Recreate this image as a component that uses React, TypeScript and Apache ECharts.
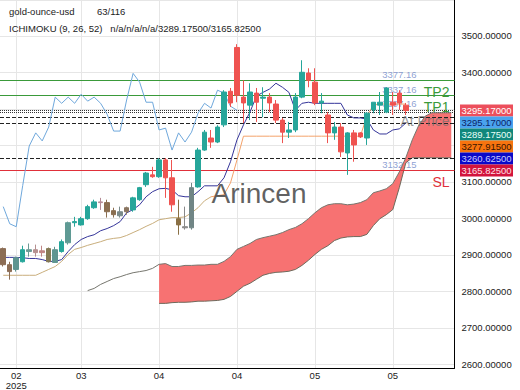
import React, { useEffect, useRef } from "react";
import * as echarts from "echarts";

const FONT = "'Liberation Sans', Arial, Helvetica, sans-serif";

// ---- categories / ticks ----
const categoryCount = 70;
const categories = Array.from({ length: categoryCount }, (_, i) => `D${i + 1}`);
const tickIndex = [2, 12, 24, 36, 48, 60];
const tickLabels = ["02\n2025", "03", "04", "04", "05", "05"];

// ---- candles (OHLC) ----
const opens = [
  2917, 2873, 2860, 2881, 2909, 2914, 2911, 2917, 2879, 2909,
  2933, 2988, 2982, 2999, 3029, 3045, 3043, 3021, 3007, 3029,
  3023, 3051, 3092, 3119, 3114, 3160, 3111, 2999, 2977, 2974,
  3086, 3187, 3220, 3209, 3256, 3348, 3468, 3332, 3310, 3343,
  3329, 3332, 3313, 3269, 3236, 3242, 3332, 3398, 3373, 3316,
  3283, 3234, 3250, 3179, 3234, 3234, 3220, 3297, 3310, 3291,
  3318, 3343, 3310,
];
const closes = [
  2873, 2854, 2892, 2914, 2914, 2906, 2906, 2881, 2914, 2936,
  2988, 2991, 2999, 3032, 3045, 3043, 3018, 3010, 3018, 3018,
  3056, 3084, 3124, 3114, 3160, 3111, 3037, 2982, 2974, 3084,
  3187, 3236, 3209, 3250, 3346, 3316, 3337, 3316, 3346, 3318,
  3332, 3316, 3269, 3236, 3242, 3332, 3400, 3378, 3316, 3321,
  3234, 3250, 3182, 3234, 3201, 3223, 3288, 3318, 3318, 3357,
  3310, 3316, 3295.17,
];
const lows = [
  2868, 2832, 2854, 2879, 2895, 2895, 2895, 2879, 2879, 2906,
  2928, 2977, 2980, 2996, 3026, 3023, 3002, 3002, 3002, 3010,
  3018, 3048, 3086, 3111, 3111, 3056, 3018, 2955, 2969, 2969,
  3084, 3185, 3193, 3206, 3250, 3305, 3318, 3261, 3269, 3264,
  3277, 3291, 3261, 3206, 3220, 3236, 3329, 3359, 3310, 3288,
  3206, 3215, 3168, 3119, 3155, 3220, 3201, 3288, 3283, 3288,
  3283, 3297, 3283,
];
const highs = [
  2920, 2881, 2895, 2925, 2931, 2928, 2925, 2920, 2922, 2942,
  2991, 3004, 3004, 3037, 3051, 3056, 3051, 3029, 3032, 3032,
  3059, 3086, 3127, 3141, 3165, 3165, 3160, 3051, 3032, 3097,
  3193, 3242, 3242, 3255, 3351, 3357, 3477, 3378, 3370, 3357,
  3359, 3343, 3324, 3275, 3264, 3343, 3433, 3411, 3411, 3343,
  3291, 3264, 3261, 3236, 3242, 3236, 3291, 3318, 3346, 3359,
  3346, 3351, 3316,
];
// candles that appear tinted by highlight boxes
const mutedCandles: Record<number, string> = {
  0: "#8c6d55", 1: "#8c6d55", 2: "#5f9590", 4: "#6c9a95", 5: "#b59090",
  6: "#c08585", 7: "#857a55", 8: "#5f9590", 10: "#5f9a94", 15: "#b58a95",
  16: "#8a6e50", 17: "#8a6e50", 18: "#7a8a8a", 19: "#8a7560", 27: "#8a7045",
  28: "#888888", 29: "#708585",
};

// ---- ichimoku lines ----
const tenkan = [
  2893, 2893, 2893, 2892, 2890, 2890, 2887, 2882, 2882, 2887,
  2909, 2928, 2942, 2950, 2955, 2966, 2972, 2980, 2991, 3015,
  3024, 3037, 3059, 3073, 3081, 3082, 3078, 3062, 3059, 3059,
  3073, 3089, 3089, 3089, 3111, 3155, 3215, 3256, 3291, 3335,
  3345, 3354, 3370, 3359, 3345, 3296, 3315, 3318, 3315, 3315,
  3315, 3315, 3315, 3283, 3275, 3275, 3272, 3242, 3231, 3231,
  3242, 3245, 3261,
];
const kijun = [
  2844, 2844, 2844, 2844, 2844, 2844, 2852, 2860, 2868, 2882,
  2901, 2915, 2920, 2926, 2931, 2936, 2942, 2945, 2947, 2953,
  2961, 2969, 2978, 2986, 2996, 2999, 3002, 3002, 3004, 3015,
  3029, 3048, 3059, 3062, 3065, 3097, 3160, 3225, 3225, 3225,
  3225, 3225, 3225, 3225, 3225, 3225, 3225, 3225, 3225, 3225,
  3225, 3225, 3225, 3225, 3225, 3225, 3280, 3310, 3313, 3313,
  3313, 3313, 3313,
];
const kijunColorSwitch = 32;
const chikou = [
  3032, 2985, 2977, 3090, 3198, 3234, 3212, 3250, 3332, 3315,
  3332, 3315, 3340, 3321, 3332, 3315, 3285, 3239, 3239, 3324,
  3397, 3373, 3318, 3318, 3242, 3247, 3187, 3234, 3209, 3236,
  3288, 3315, 3302, 3351, 3343, 3307, 3296,
];
const spanAStart = 13;
const spanA = [
  2802, 2808, 2819, 2827, 2835, 2840, 2846, 2851, 2854, 2857,
  2863, 2874, 2876, 2868, 2868, 2871, 2871, 2872, 2872, 2874,
  2874, 2882, 2895, 2915, 2923, 2931, 2942, 2947, 2951, 2955,
  2961, 2969, 2975, 2985, 2999, 3015, 3029, 3037, 3040, 3040,
  3037, 3039, 3043, 3051, 3070, 3075, 3081, 3095, 3127, 3166,
  3215, 3255, 3280, 3289, 3289, 3289, 3289.175,
];
const spanBStart = 24;
const spanB = [
  2767, 2767, 2769, 2770, 2770, 2771, 2773, 2773, 2774, 2775,
  2778, 2786, 2800, 2814, 2822, 2833, 2844, 2849, 2852, 2853,
  2855, 2860, 2871, 2885, 2901, 2915, 2925, 2939, 2946, 2949,
  2950, 2950, 2956, 2980, 2999, 3010, 3024, 3084, 3152, 3166,
  3165.825, 3165.825, 3165.825, 3165.825, 3165.825, 3165.825,
];

// ---- levels ----
const tp2 = 3377.16;
const tp1 = 3337.16;
const entry = 3297.16;
const stopLoss = 3132.15;
const dottedLevels = [3295.17, 3289.175];
const dashedLevels = [3277.915, 3260.625, 3165.825];
const levelLabelIndex = 61;

// ---- right price tags ----
const tagValues = [3295.17, 3295.17, 3289.175, 3277.915, 3260.625, 3165.825];
const tagBg = ["#ec4f5c", "#4aa3ef", "#11877c", "#f7740f", "#0a0ac8", "#d2143c"];
const tagFg = ["#ffffff", "#0d1f66", "#e8fff8", "#3a1500", "#c8c8ff", "#ffe0e6"];

const GREEN = "#3a9a3a";
const RED = "#e0303a";

export default function App() {
  const ref = useRef<HTMLDivElement>(null);

  useEffect(() => {
    if (!ref.current) return;
    const chart = echarts.init(ref.current, null, { renderer: "svg" });

    const pad = (start: number, vals: number[]) =>
      categories.map((_, i) => (i >= start && i - start < vals.length ? vals[i - start] : "-"));
    const empty = categories.map(() => "-");

    const lowerData = pad(spanBStart, spanB);
    const bandData = categories.map((_, i) => {
      if (i < spanBStart) return "-";
      const a = spanA[i - spanAStart];
      const b = spanB[i - spanBStart];
      return a - b;
    });
    const kijunA = categories.map((_, i) => (i <= kijunColorSwitch && i < kijun.length ? kijun[i] : "-"));
    const kijunB = categories.map((_, i) => (i >= kijunColorSwitch && i < kijun.length ? kijun[i] : "-"));

    const candleData = opens.map((o, i) => {
      const value = [o, closes[i], lows[i], highs[i]];
      const c = mutedCandles[i];
      return c
        ? { value, itemStyle: { color: c, color0: c, borderColor: c, borderColor0: c } }
        : value;
    });

    const tickMap: Record<number, string> = {};
    tickIndex.forEach((t, k) => (tickMap[t] = tickLabels[k]));

    // axis labels that sit under the stacked price tags are hidden by them
    const tagTop = tagValues[0] + 20;
    const tagBottom = tagValues[tagValues.length - 1] - 20;

    const lvlLabel = (text: string, color: string) => ({
      show: true,
      formatter: text,
      position: "insideEndBottom",
      distance: 5,
      color,
      fontSize: 14,
      lineHeight: 13,
      fontFamily: FONT,
    });

    const markSeries = (name: string, color: string, z: number, markLine: any) => ({
      name,
      type: "line",
      data: empty,
      color,
      z,
      symbol: "none",
      silent: true,
      markLine: { silent: true, z, symbol: "none", label: { show: false }, ...markLine },
    });

    const greenLine = { color: GREEN, type: "solid", width: 1, opacity: 1 };

    const option: any = {
      animation: false,
      textStyle: { fontFamily: FONT },
      grid: { left: 0, right: 65.5, top: 0, bottom: 21, containLabel: false },
      xAxis: {
        type: "category",
        data: categories,
        boundaryGap: true,
        axisLine: { show: true, lineStyle: { color: "#000", width: 1 } },
        axisTick: { show: false },
        splitLine: { show: false },
        axisLabel: {
          interval: (idx: number) => tickMap[idx] !== undefined,
          formatter: (_v: string, idx: number) => tickMap[idx] ?? "",
          fontSize: 9.5,
          lineHeight: 10,
          color: "#222",
          margin: 2,
          fontFamily: FONT,
        },
      },
      yAxis: {
        type: "value",
        position: "right",
        min: 2590,
        max: 3598,
        splitNumber: 10,
        axisLine: { show: true, lineStyle: { color: "#000", width: 1 } },
        axisTick: { show: false },
        axisLabel: {
          margin: 7,
          fontSize: 9.5,
          color: "#222",
          fontFamily: FONT,
          showMinLabel: false,
          showMaxLabel: false,
          formatter: (v: number) => (v < tagTop && v > tagBottom ? "" : v.toFixed(5)),
        },
        splitLine: { show: true, lineStyle: { color: "#e6e6e6", width: 1 } },
      },
      series: [
        markSeries("grid-x", "#e6e6e6", 0, {
          lineStyle: { color: "#e6e6e6", type: "solid", width: 1 },
          data: tickIndex.map((i) => ({ xAxis: i })),
        }),
        {
          name: "level-values",
          type: "scatter",
          z: 1,
          symbolSize: 0,
          silent: true,
          data: [tp2, tp1, entry, stopLoss].map((v) => [levelLabelIndex, v]),
          label: {
            show: true,
            position: "top",
            distance: 1,
            fontSize: 9.5,
            color: "#7088c8",
            fontFamily: FONT,
            formatter: (p: any) => p.value[1].toFixed(2),
          },
        },
        {
          name: "spanB",
          type: "line",
          data: lowerData,
          stack: "cloud",
          z: 2,
          symbol: "none",
          lineStyle: { color: "#6e6a5c", width: 1 },
        },
        {
          name: "cloud",
          type: "line",
          data: bandData,
          stack: "cloud",
          z: 2,
          symbol: "none",
          lineStyle: { width: 0 },
          areaStyle: { color: "#f77272", opacity: 1 },
        },
        {
          name: "spanA",
          type: "line",
          data: pad(spanAStart, spanA),
          z: 3,
          symbol: "none",
          lineStyle: { color: "#76766e", width: 1 },
        },
        markSeries("target-2", GREEN, 3, {
          lineStyle: greenLine,
          data: [{ yAxis: tp2, lineStyle: greenLine, label: lvlLabel("TP2", GREEN) }],
        }),
        markSeries("target-1", GREEN, 3, {
          lineStyle: greenLine,
          data: [{ yAxis: tp1, lineStyle: greenLine, label: lvlLabel("TP1", GREEN) }],
        }),
        markSeries("stop", RED, 3, {
          lineStyle: { color: RED, type: "solid", width: 1 },
          data: [{ yAxis: stopLoss, label: lvlLabel("SL", RED) }],
        }),
        markSeries("entry", "#444", 3, {
          lineStyle: { color: "#333", type: "dotted", width: 1 },
          data: [
            { yAxis: entry, label: lvlLabel("At Price", "rgba(110,110,110,0.7)") },
            ...dottedLevels.map((v) => ({ yAxis: v })),
          ],
        }),
        markSeries("refs", "#222", 3, {
          lineStyle: { color: "#222", type: "dashed", width: 1 },
          data: dashedLevels.map((v) => ({ yAxis: v })),
        }),
        {
          name: "chikou",
          type: "line",
          data: chikou,
          z: 4,
          symbol: "none",
          lineStyle: { color: "#6fa8dc", width: 1 },
        },
        {
          name: "kijun-early",
          type: "line",
          data: kijunA,
          z: 4,
          symbol: "none",
          lineStyle: { color: "#c9ae7c", width: 1 },
        },
        {
          name: "kijun",
          type: "line",
          data: kijunB,
          z: 4,
          symbol: "none",
          lineStyle: { color: "#f4a26a", width: 1 },
        },
        {
          name: "tenkan",
          type: "line",
          data: tenkan,
          z: 4,
          symbol: "none",
          lineStyle: { color: "#35359a", width: 1 },
        },
        {
          name: "price",
          type: "candlestick",
          data: candleData,
          z: 5,
          barWidth: 5,
          itemStyle: {
            color: "#26a69a",
            color0: "#ef5350",
            borderColor: "#26a69a",
            borderColor0: "#ef5350",
            borderWidth: 1,
          },
        },
      ],
    };

    chart.setOption(option);

    const yFirst = chart.convertToPixel({ yAxisIndex: 0 }, tagValues[0]) as number;
    const tagH = 12;
    const tags: any[] = [];
    tagValues.forEach((v, k) => {
      const cy = yFirst + k * tagH;
      tags.push({
        type: "rect",
        z: 100,
        shape: { x: 460, y: cy - tagH / 2, width: 53, height: tagH },
        style: { fill: tagBg[k] },
      });
      tags.push({
        type: "text",
        z: 101,
        x: 486.5,
        y: cy,
        style: {
          text: v.toFixed(5),
          fill: tagFg[k],
          fontSize: 9.5,
          fontFamily: FONT,
          align: "center",
          verticalAlign: "middle",
        },
      });
    });

    chart.setOption({
      graphic: [
        {
          type: "text",
          x: 9,
          y: 6,
          style: { text: "gold-ounce-usd", fill: "#222", fontSize: 9.5, fontFamily: FONT },
        },
        {
          type: "text",
          x: 97,
          y: 6,
          style: { text: "63/116", fill: "#222", fontSize: 9.5, fontFamily: FONT },
        },
        {
          type: "text",
          x: 9,
          y: 23.5,
          style: {
            text: "ICHIMOKU (9, 26, 52)   n/a/n/a/n/a/3289.17500/3165.82500",
            fill: "#222",
            fontSize: 9.5,
            fontFamily: FONT,
          },
        },
        {
          type: "text",
          x: 259,
          y: 193,
          z: 50,
          style: {
            text: "Arincen",
            fill: "rgba(70,70,70,0.85)",
            fontSize: 28,
            fontFamily: FONT,
            align: "center",
            verticalAlign: "middle",
          },
        },
        ...tags,
      ],
    });

    return () => chart.dispose();
  }, []);

  return (
    <div
      ref={ref}
      style={{ position: "absolute", left: 0, top: 0, width: 520, height: 390, background: "#fff" }}
    />
  );
}
